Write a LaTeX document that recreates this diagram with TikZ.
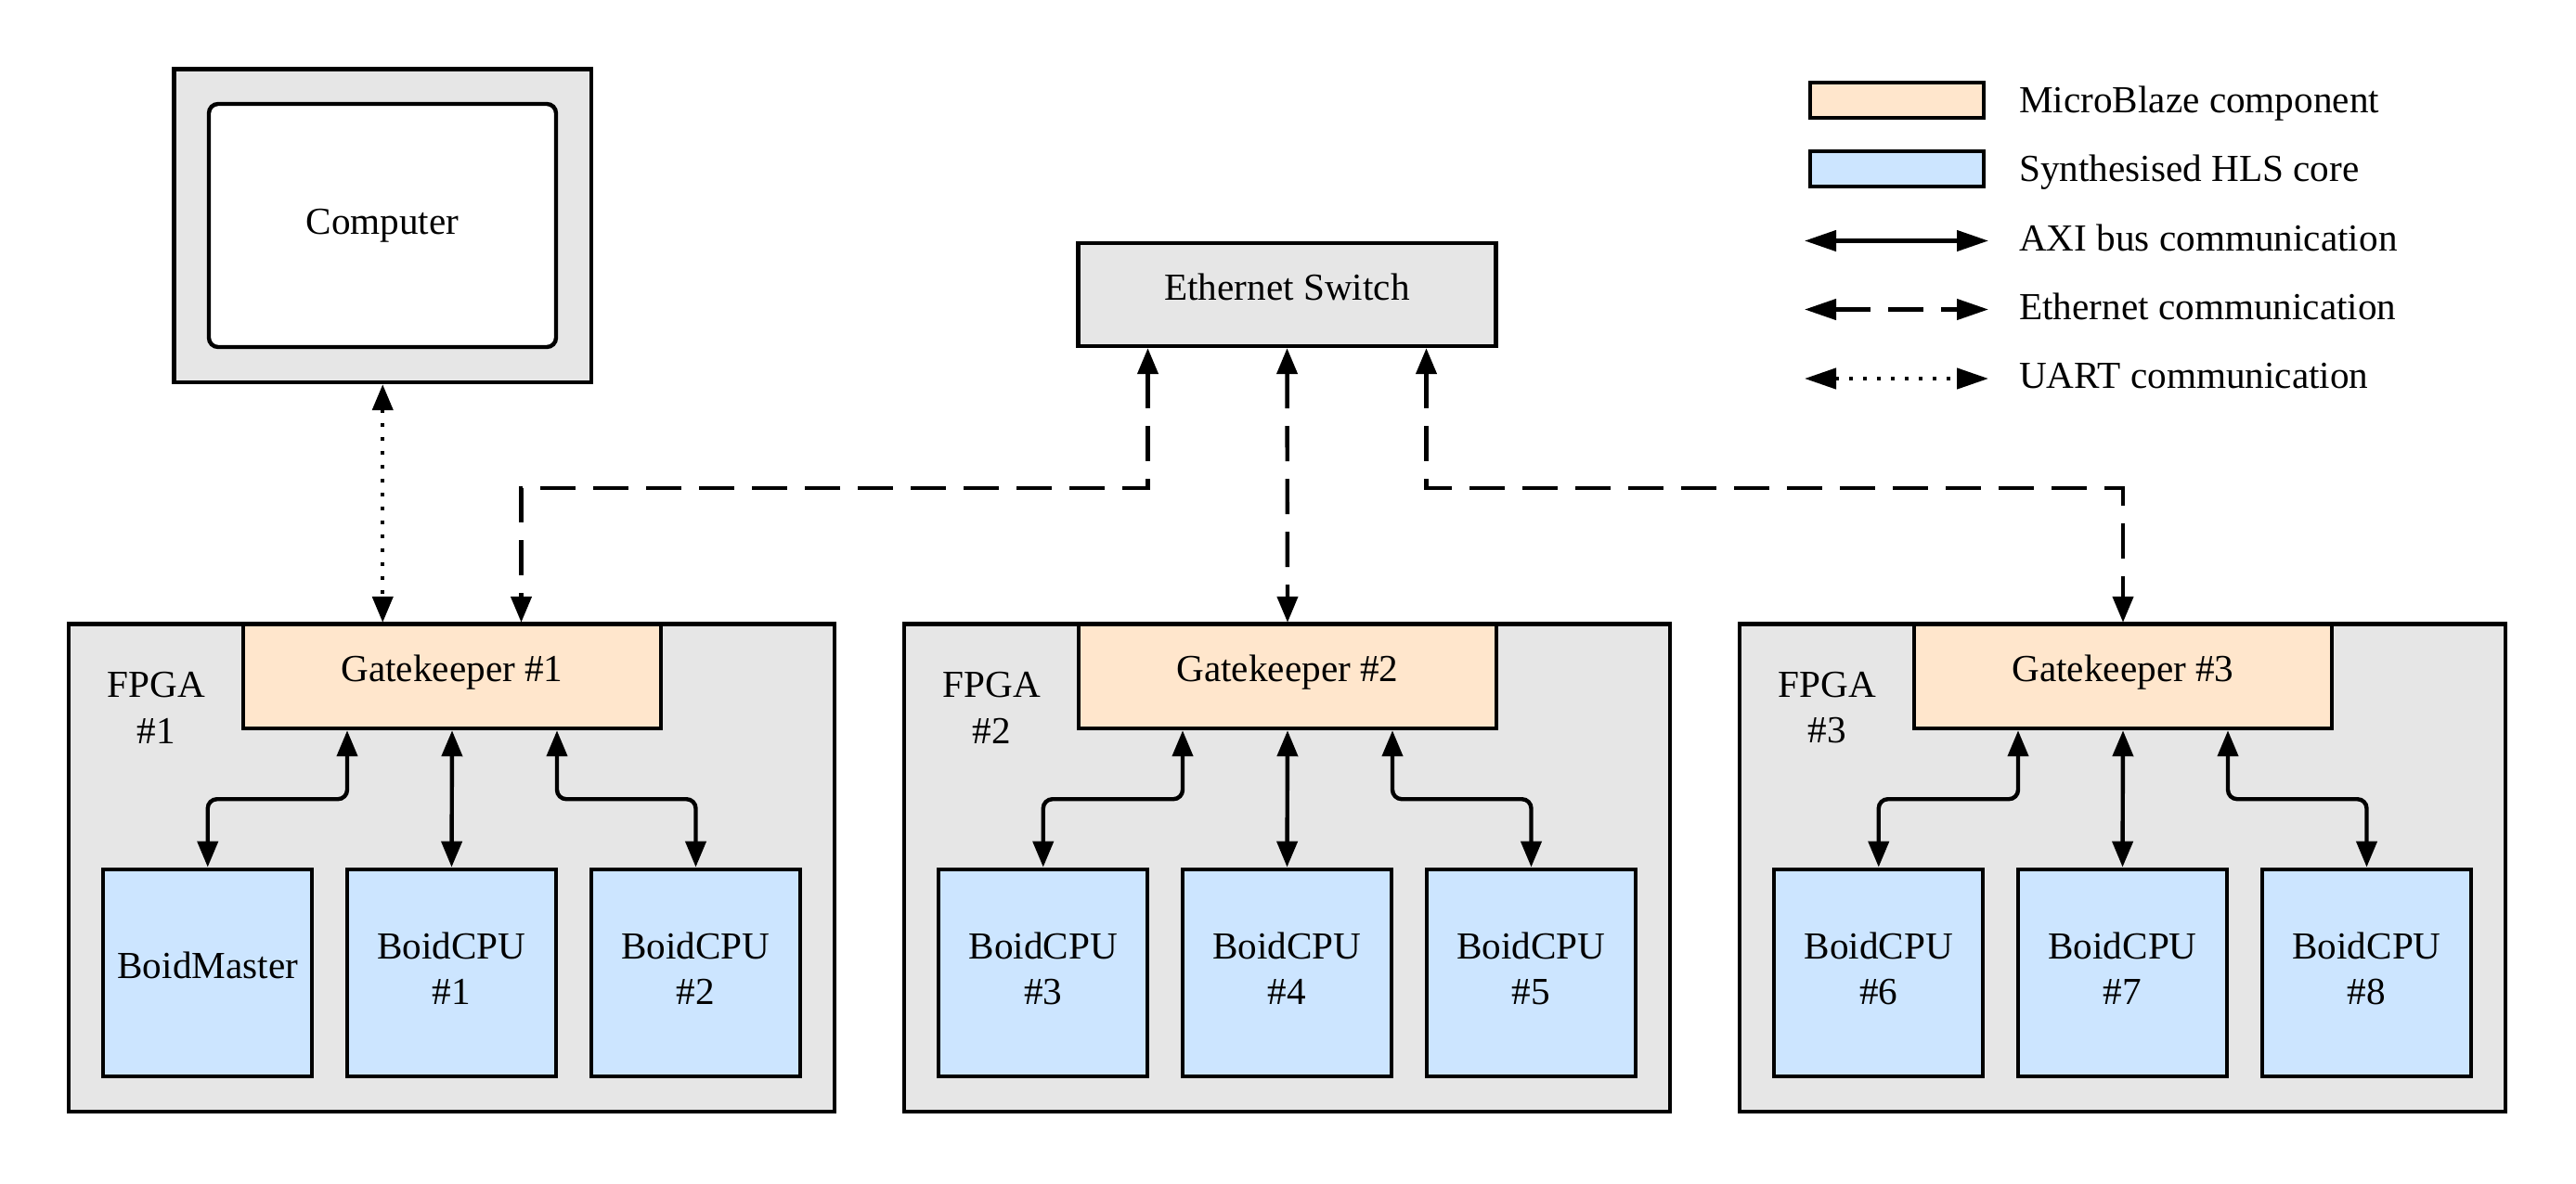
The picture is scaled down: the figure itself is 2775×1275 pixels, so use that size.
\documentclass[tikz,border=0pt]{standalone}
\usepackage{fontspec}
\setmainfont{Liberation Serif}
\usetikzlibrary{arrows.meta,calc}
\definecolor{mbfill}{HTML}{FFE6CC}
\definecolor{hlsfill}{HTML}{CCE5FF}
\definecolor{panelfill}{HTML}{E6E6E6}

\begin{document}
\begin{tikzpicture}[x=1pt,y=-1pt,
  every node/.style={font=\fontsize{41.2pt}{49.5pt}\selectfont, inner sep=0pt},
  frame/.style={draw, line width=4.4pt, rectangle},
  onetext/.style={text height=28pt, text depth=17pt},
  gate/.style={frame, fill=mbfill, minimum width=450pt, minimum height=112pt, onetext},
  leaf/.style={frame, fill=hlsfill, minimum width=225pt, minimum height=223.5pt, align=center},
  twotext/.style={text depth=9.5pt},
  fpga/.style={frame, fill=panelfill, minimum width=825pt, minimum height=525.5pt},
  fpgalabel/.style={align=center},
  legbox/.style={frame, minimum width=187pt, minimum height=38pt},
  legtext/.style={anchor=base west},
  link/.style={line width=4.4pt, {Triangle[length=28pt,width=22pt]}-{Triangle[length=28pt,width=22pt]}},
  legtips/.style={{Triangle[length=34pt,width=22pt]}-{Triangle[length=34pt,width=22pt]}},
  axi/.style={link, rounded corners=10pt},
  eth/.style={link, dash pattern=on 38pt off 19pt},
  uart/.style={link, dash pattern=on 4pt off 11pt}
]
\useasboundingbox (0,0) rectangle (2775,1275);

% host computer and the network switch
\node[frame, fill=panelfill, minimum width=449.5pt, minimum height=337.5pt] (pcframe) at (412.25,243.25) {};
\node[frame, fill=white, rounded corners=10pt, minimum width=374pt, minimum height=262pt,
      text height=28pt, text depth=8.6pt] (pc) at (412,243) {Computer};
\node[frame, fill=panelfill, minimum width=450pt, minimum height=111pt, onetext] (sw) at (1386.5,317.5) {Ethernet Switch};

% three FPGA boards
\foreach \k/\a/\b/\c/\la/\lb/\lc in {1/BoidMaster/BoidCPU/BoidCPU//\#1/\#2,
                                      2/BoidCPU/BoidCPU/BoidCPU/\#3/\#4/\#5,
                                      3/BoidCPU/BoidCPU/BoidCPU/\#6/\#7/\#8}{
  \pgfmathsetmacro{\dx}{900*(\k-1)}
  \node[fpga] (fpga\k) at (486.5+\dx,935.25) {};
  \node[fpgalabel] (fpgalbl\k) at (168.5+\dx,762.6) {FPGA\\\#\k};
  \node[gate] (gk\k) at (487+\dx,729) {Gatekeeper \#\k};
  \ifnum\k=1
    \node[leaf, onetext] (la\k) at (223.75+\dx,1048.5) {\a};
  \else
    \node[leaf, twotext] (la\k) at (223.75+\dx,1048.5) {\a\\\la};
  \fi
  \node[leaf, twotext] (lb\k) at (486.5+\dx,1048.5) {\b\\\lb};
  \node[leaf, twotext] (lc\k) at (749.5+\dx,1048.5) {\c\\\lc};
  % AXI bus links inside the board
  \draw[axi] ([xshift=-113pt]gk\k.south) -- ++(0,74) -| (la\k.north);
  \draw[axi] (gk\k.south) -- (lb\k.north);
  \draw[axi] ([xshift=113pt]gk\k.south) -- ++(0,74) -| (lc\k.north);
}

% UART and Ethernet links
\draw[uart] (pcframe.south) -- (pcframe.south |- gk1.north);
\draw[eth] ([xshift=-150pt]sw.south) -- ++(0,151) -| ([xshift=74.5pt]gk1.north);
\draw[eth] (sw.south) -- (gk2.north);
\draw[eth] ([xshift=150pt]sw.south) -- ++(0,151) -| (gk3.north);

% legend
\node[legbox, fill=mbfill] (legmb) at (2043.5,108) {};
\node[legbox, fill=hlsfill] (leghls) at (2043.5,182) {};
\node[legtext] (legmbtxt) at (2175,121.5) {MicroBlaze component};
\node[legtext] (leghlstxt) at (2175,195.7) {Synthesised HLS core};
\node[legtext] (legaxitxt) at (2175,270) {AXI bus communication};
\node[legtext] (legethtxt) at (2175,344) {Ethernet communication};
\node[legtext] (leguarttxt) at (2175,418.3) {UART communication};
\coordinate (axiL) at (1944,259.5);
\coordinate (axiR) at (2142,259.5);
\coordinate (ethL) at (1944,333.5);
\coordinate (ethR) at (2142,333.5);
\coordinate (uartL) at (1944,408);
\coordinate (uartR) at (2142,408);
\draw[link, legtips] (axiL) -- (axiR);
\draw[eth, legtips] (ethL) -- (ethR);
\draw[uart, legtips] (uartL) -- (uartR);
\end{tikzpicture}
\end{document}
